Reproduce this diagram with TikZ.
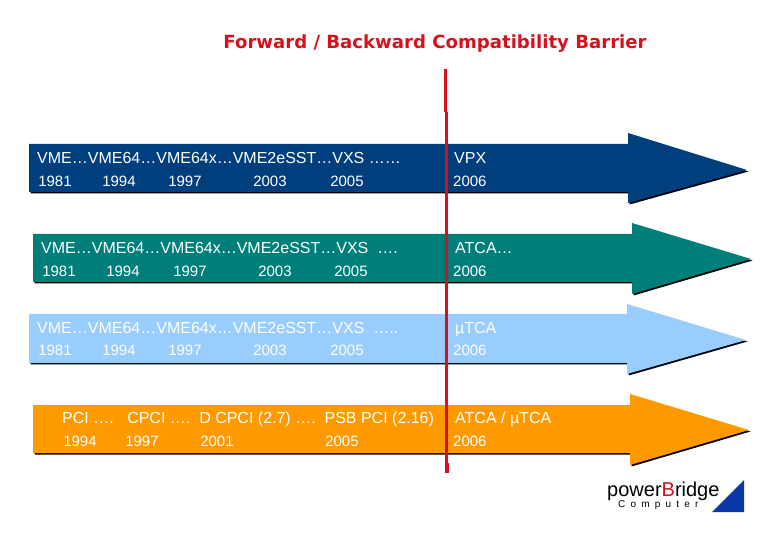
\documentclass[tikz,border=0pt]{standalone}
\usepackage{fontspec}
\setmainfont{Liberation Sans}
\newfontfamily\titlefont{DejaVu Sans}
\definecolor{bandblue}{HTML}{003F7D}
\definecolor{bandteal}{HTML}{007F7A}
\definecolor{bandsky}{HTML}{99CCFF}
\definecolor{bandorange}{HTML}{FF9900}
\definecolor{barrierred}{HTML}{D8101C}
\definecolor{logoblue}{HTML}{0A36A8}
\tikzset{
  bandtext/.style={text=white,anchor=west,inner sep=0pt,text height=11pt,text depth=3pt,yshift=-1.5pt,font=\fontsize{16}{19}\selectfont},
  yeartext/.style={bandtext,anchor=center,font=\fontsize{15}{18}\selectfont},
  shade/.style={black,shift={(1.5,1.5)}},
}
\begin{document}
\begin{tikzpicture}[x=1pt,y=-1pt]
    \useasboundingbox (0,0) rectangle (780,540);
    \node[font=\titlefont\bfseries\fontsize{18.1}{22}\selectfont,text=barrierred,inner sep=0pt] (title) at (435,43.5) {Forward / Backward Compatibility Barrier};

    % band 1
    \fill[shade] (29,144) -- (628,144) -- (628,133) -- (747,170) -- (628,203) -- (628,192) -- (29,192) -- cycle;
    \fill[bandblue] (29,144) -- (628,144) -- (628,133) -- (747,170) -- (628,203) -- (628,192) -- (29,192) -- cycle;
    \node[bandtext] (vmeA) at (37,158) {VME…VME64…VME64x…VME2eSST…VXS ……};
    \node[bandtext] (vpx) at (454,158) {VPX};
    \node[yeartext] (a81) at (55,181) {1981};
    \node[yeartext] (a94) at (119,181) {1994};
    \node[yeartext] (a97) at (185,181) {1997};
    \node[yeartext] (a03) at (270,181) {2003};
    \node[yeartext] (a05) at (347,181) {2005};
    \node[yeartext,anchor=west] (a06) at (453,181) {2006};

    % band 2
    \fill[shade] (33,234) -- (632,234) -- (632,223) -- (751,259) -- (632,294) -- (632,282) -- (33,282) -- cycle;
    \fill[bandteal] (33,234) -- (632,234) -- (632,223) -- (751,259) -- (632,294) -- (632,282) -- (33,282) -- cycle;
    \node[bandtext] (vmeB) at (41,248) {VME…VME64…VME64x…VME2eSST…VXS\ \ ….};
    \node[bandtext] (atca) at (455,248) {ATCA…};
    \node[yeartext] (b81) at (59,271) {1981};
    \node[yeartext] (b94) at (123,271) {1994};
    \node[yeartext] (b97) at (190,271) {1997};
    \node[yeartext] (b03) at (275,271) {2003};
    \node[yeartext] (b05) at (351,271) {2005};
    \node[yeartext,anchor=west] (b06) at (453,271) {2006};

    % band 3
    \fill[shade] (29,314) -- (627,314) -- (627,304) -- (746,340) -- (627,374) -- (627,363) -- (29,363) -- cycle;
    \fill[bandsky] (29,314) -- (627,314) -- (627,304) -- (746,340) -- (627,374) -- (627,363) -- (29,363) -- cycle;
    \node[bandtext] (vmeC) at (37,328) {VME…VME64…VME64x…VME2eSST…VXS\ \ …..};
    \node[bandtext] (mtca) at (455,328) {µTCA};
    \node[yeartext] (c81) at (55,350) {1981};
    \node[yeartext] (c94) at (119,350) {1994};
    \node[yeartext] (c97) at (185,350) {1997};
    \node[yeartext] (c03) at (270,350) {2003};
    \node[yeartext] (c05) at (347,350) {2005};
    \node[yeartext,anchor=west] (c06) at (453,350) {2006};

    % band 4
    \fill[shade] (33,405) -- (630,405) -- (630,394) -- (749,430) -- (630,465) -- (630,453) -- (33,453) -- cycle;
    \fill[bandorange] (33,405) -- (630,405) -- (630,394) -- (749,430) -- (630,465) -- (630,453) -- (33,453) -- cycle;
    \node[bandtext] (pci) at (62,418) {PCI ….\hspace{13.5pt}CPCI ….\ \ D CPCI (2.7) ….\ \ PSB PCI (2.16)};
    \node[bandtext] (both) at (455,418) {ATCA / µTCA};
    \node[yeartext] (d94) at (80,441) {1994};
    \node[yeartext] (d97) at (142,441) {1997};
    \node[yeartext] (d01) at (217,441) {2001};
    \node[yeartext] (d05) at (342,441) {2005};
    \node[yeartext,anchor=west] (d06) at (453,441) {2006};

    % barrier
    \coordinate (barA) at (445,69);
    \coordinate (barB) at (445,112);
    \coordinate (barC) at (446,112);
    \coordinate (barD) at (446,463);
    \coordinate (barE) at (447,463);
    \coordinate (barF) at (447,473);
    \draw[barrierred,line width=3pt] (barA) -- (barB);
    \draw[barrierred,line width=3pt] (barC) -- (barD);
    \draw[barrierred,line width=3.5pt] (barE) -- (barF);

    % logo
    \fill[logoblue] (712,512) -- (744,512) -- (744,480) -- cycle;
    \node[anchor=west,inner sep=0pt,font=\fontsize{20}{24}\selectfont] (power) at (607,491) {power{\color{barrierred}B}ridge};
    \node[anchor=west,inner sep=0pt,font=\addfontfeature{LetterSpace=52}\fontsize{10}{12}\selectfont] (computer) at (618,505) {Computer};
  \end{tikzpicture}
\end{document}
